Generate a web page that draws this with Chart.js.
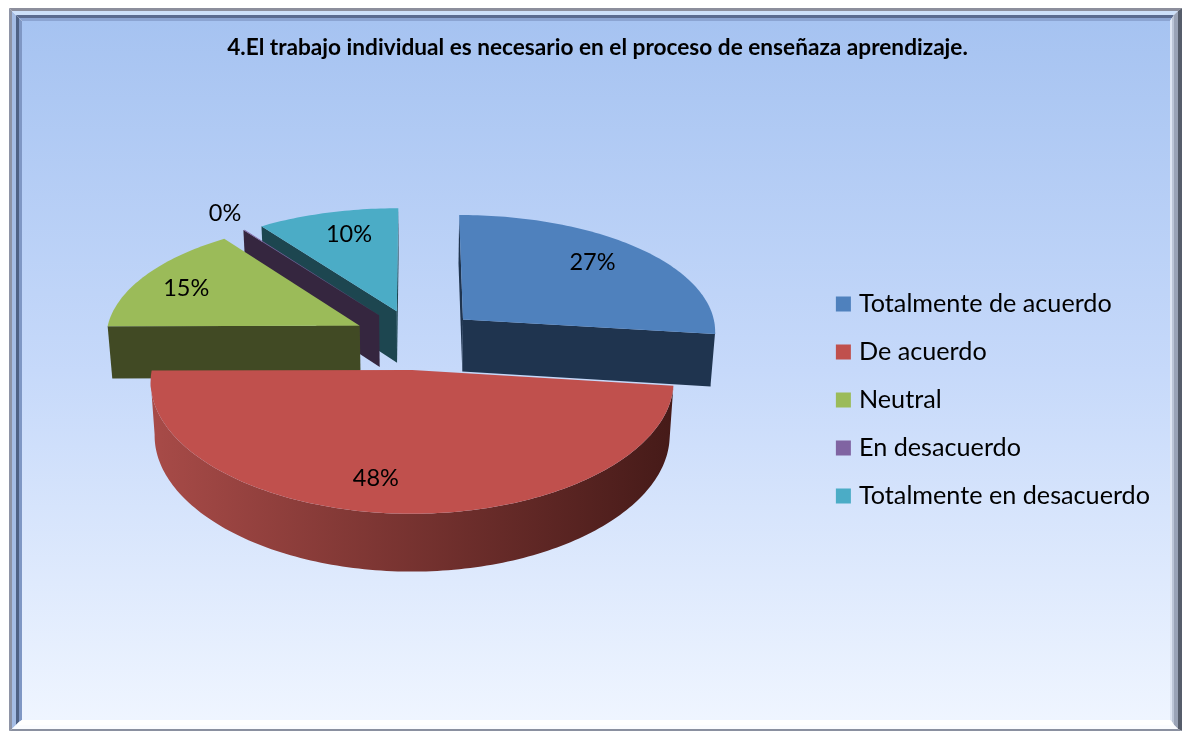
<!DOCTYPE html>
<html><head><meta charset="utf-8">
<style>html,body{margin:0;padding:0;background:#fff;overflow:hidden}#w{width:1183px;height:732px;position:relative}canvas{display:block}</style>
<script src="https://cdn.jsdelivr.net/npm/chart.js@4"></script>
</head><body><div id="w"><canvas id="c" width="1183" height="732"></canvas></div>
<script>
const chartTitle = "4.El trabajo individual es necesario en el proceso de enseñaza aprendizaje.";
const categories = ["Totalmente de acuerdo","De acuerdo","Neutral","En desacuerdo","Totalmente en desacuerdo"];
const percentages = [27, 48, 15, 0.1, 10];
const faceColors = ["#4f81bd","#c0504d","#9bbb59","#8064a2","#4bacc6"];
const wallColors = [["#1f344f","#1f344f"],["#a84b48","#451a18"],["#414a24","#414a24"],["#35263f","#35263f"],["#1d4650","#1d4650"]];
const paintOrder = [4,3,2,0,1];
const labelRadius = [0.77,0.775,0.775,1.2,0.775];
const labelNudge = [[-7,-1],[-23,0],[-6,2],[6,-1],[7,1]];

const EXPLODE = 0.25;
const LEGEND_SHIFT = 18.5;
const view = {cx:416, cy:339, K:254.5, A:120.3, px:-0.09, py:-0.112};
function project(u,v){return [view.cx+u*view.K/(1+view.px*v), view.cy+v*view.A/(1+view.py*v)];}
function drop(pt){return [view.cx+(pt[0]-view.cx)*0.985, pt[1]+52+(pt[1]-320)*0.03];}

function outline(el){
  const mid=(el.startAngle+el.endAngle)/2;
  const ox=EXPLODE*Math.cos(mid), oy=EXPLODE*Math.sin(mid);
  const pts=[project(ox,oy)];
  const n=Math.max(2,Math.ceil((el.endAngle-el.startAngle)/0.02));
  for(let i=0;i<=n;i++){const a=el.startAngle+(el.endAngle-el.startAngle)*i/n;pts.push(project(ox+Math.cos(a),oy+Math.sin(a)));}
  return pts;
}
function frontRuns(pts){
  const runs=[];let run=null;
  for(let k=0;k<pts.length;k++){
    const a=pts[k],b=pts[(k+1)%pts.length];
    if(b[0]-a[0]<0){ if(!run){run=[a];runs.push(run);} run.push(b); }
    else run=null;
  }
  return runs;
}
const pie3d={
  id:'pie3d',
  afterLayout(chart){ chart.legend.top+=LEGEND_SHIFT; chart.legend.bottom+=LEGEND_SHIFT; },
  beforeDatasetDraw(chart,args){
    const ctx=chart.ctx, meta=args.meta;
    ctx.save();
    paintOrder.forEach(i=>{
      const pts=outline(meta.data[i]);
      const g=ctx.createLinearGradient(150,0,675,0);
      g.addColorStop(0,wallColors[i][0]);g.addColorStop(1,wallColors[i][1]);
      ctx.fillStyle=g;
      frontRuns(pts).forEach(run=>{
        ctx.beginPath();
        run.forEach((p,k)=>k?ctx.lineTo(p[0],p[1]):ctx.moveTo(p[0],p[1]));
        run.slice().reverse().forEach(p=>{const d=drop(p);ctx.lineTo(d[0],d[1]);});
        ctx.closePath();ctx.fill();
      });
      ctx.fillStyle=faceColors[i];
      ctx.beginPath();pts.forEach((p,k)=>k?ctx.lineTo(p[0],p[1]):ctx.moveTo(p[0],p[1]));ctx.closePath();ctx.fill();
    });
    ctx.restore();
    return false;
  },
  afterDatasetsDraw(chart){
    const ctx=chart.ctx, meta=chart.getDatasetMeta(0);
    ctx.save();
    ctx.font='23.5px Lato';ctx.fillStyle='#000';ctx.textAlign='center';ctx.textBaseline='middle';
    meta.data.forEach((el,i)=>{
      const mid=(el.startAngle+el.endAngle)/2, r=EXPLODE+labelRadius[i];
      const p=project(r*Math.cos(mid),r*Math.sin(mid));
      ctx.fillText(Math.round(percentages[i])+'%',p[0]+labelNudge[i][0],p[1]+labelNudge[i][1]);
    });
    ctx.restore();
  }
};
const frame={
  id:'frame',
  beforeDraw(chart){
    const ctx=chart.ctx;
    const rings=[
      [[9,8,1182,731],[12,11,1178,729],["#8e94a6","#8c8e9c","#565d6b","#8a90a0"]],
      [[12,11,1178,729],[16,15,1174,725],["#a4bce4","#cde0f9","#9aa3b6","#fbfcff"]],
      [[16,15,1174,725],[19,18,1172,722],["#4f6285","#5a6b8f","#bcc5d6","#ffffff"]],
      [[19,18,1172,722],[22,21,1170,720],["#7f97c4","#8ba4d2","#dfe6f3","#ffffff"]]
    ];
    ctx.save();
    ctx.fillStyle='#fff';ctx.fillRect(0,0,1183,732);
    const g=ctx.createLinearGradient(0,21,0,720);
    g.addColorStop(0,'#a6c3f1');g.addColorStop(0.5,'#c6d9fa');g.addColorStop(1,'#eff5ff');
    ctx.fillStyle=g;ctx.fillRect(22,21,1148,699);
    rings.forEach(([o,n,c])=>{
      const quads=[
        [[o[0],o[1]],[n[0],n[1]],[n[0],n[3]],[o[0],o[3]]],
        [[o[0],o[1]],[o[2],o[1]],[n[2],n[1]],[n[0],n[1]]],
        [[o[2],o[1]],[o[2],o[3]],[n[2],n[3]],[n[2],n[1]]],
        [[o[0],o[3]],[n[0],n[3]],[n[2],n[3]],[o[2],o[3]]]
      ];
      quads.forEach((q,i)=>{ctx.fillStyle=c[i];ctx.beginPath();q.forEach((p,k)=>k?ctx.lineTo(p[0],p[1]):ctx.moveTo(p[0],p[1]));ctx.closePath();ctx.fill();});
    });
    ctx.restore();
  }
};
new Chart(document.getElementById('c'),{
  type:'pie',
  data:{labels:categories,datasets:[{data:percentages,backgroundColor:faceColors,borderWidth:0}]},
  plugins:[frame,pie3d],
  options:{
    responsive:false,animation:false,
    layout:{padding:{top:34,left:35,right:23,bottom:3}},
    plugins:{
      tooltip:{enabled:false},
      title:{display:true,text:chartTitle,color:'#000',font:{family:'Lato',size:22.65,weight:'bold'},padding:{top:0,bottom:41}},
      legend:{position:'right',
        labels:{color:'#000',font:{family:'Lato',size:25.2},boxWidth:6,boxHeight:6,padding:22.8,
          generateLabels(chart){
            return categories.map((t,i)=>({text:t,fillStyle:faceColors[i],strokeStyle:faceColors[i],lineWidth:9,hidden:false,index:i}));
          }}}
    }
  }
});
</script>
</body></html>
